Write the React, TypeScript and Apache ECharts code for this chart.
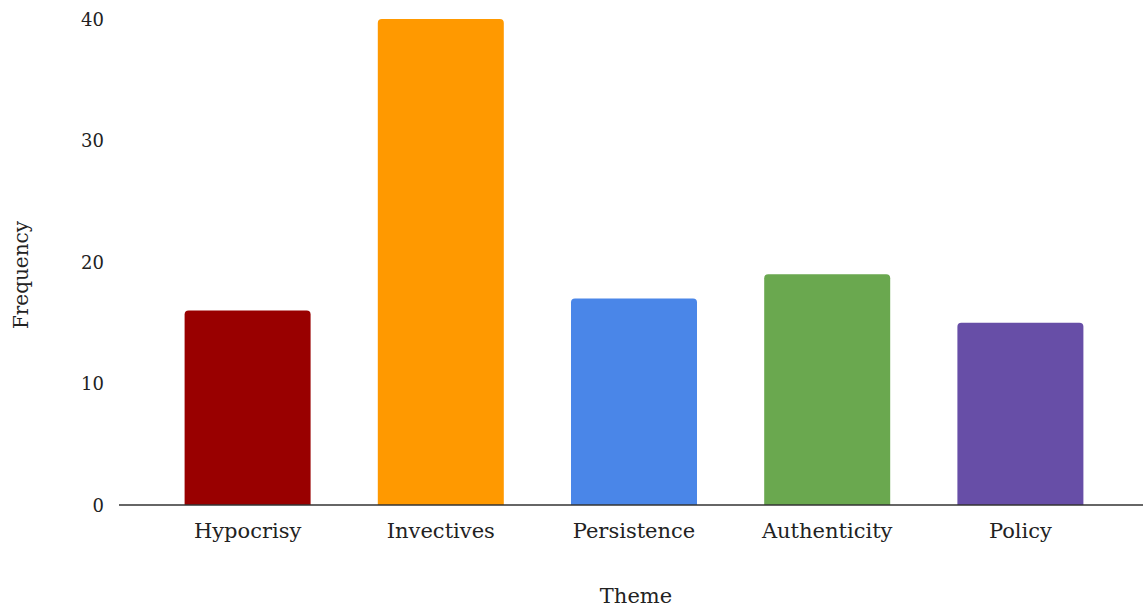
import React, { useEffect, useRef } from "react";
import * as echarts from "echarts";

const categories = ["Hypocrisy", "Invectives", "Persistence", "Authenticity", "Policy"];
const frequencies = [16, 40, 17, 19, 15];
const barColors = ["#990000", "#ff9900", "#4a86e8", "#6aa84f", "#674ea7"];
const yTicks = [0, 10, 20, 30, 40];
const xTitle = "Theme";
const yTitle = "Frequency";

const FONT = "'DejaVu Serif', serif";

export default function App() {
  const ref = useRef<HTMLDivElement>(null);
  useEffect(() => {
    if (!ref.current) return;
    const chart = echarts.init(ref.current, null, { renderer: "svg" });
    chart.setOption({
      animation: false,
      backgroundColor: "#ffffff",
      grid: { left: 151, right: 26, top: 19, bottom: 102, containLabel: false },
      xAxis: {
        type: "category",
        data: categories,
        axisLine: { show: false },
        axisTick: { show: false },
        axisLabel: { fontFamily: FONT, fontSize: 21, color: "#222", margin: 15 },
      },
      yAxis: {
        type: "value",
        min: yTicks[0],
        max: yTicks[yTicks.length - 1],
        interval: 10,
        axisLine: { show: false },
        axisTick: { show: false },
        splitLine: { show: false },
        axisLabel: { fontFamily: FONT, fontSize: 18, color: "#222", margin: 47 },
      },
      graphic: [
        {
          type: "line",
          shape: { x1: 119, y1: 505, x2: 1143, y2: 505 },
          style: { stroke: "#333", lineWidth: 1.5 },
          z: 100,
        },
        {
          type: "text",
          x: 636,
          y: 596,
          style: {
            text: xTitle,
            fontFamily: FONT,
            fontSize: 21,
            fill: "#222",
            textAlign: "center",
            textVerticalAlign: "middle",
          },
        },
        {
          type: "text",
          x: 21,
          y: 275,
          rotation: Math.PI / 2,
          style: {
            text: yTitle,
            fontFamily: FONT,
            fontSize: 20,
            fill: "#222",
            textAlign: "center",
            textVerticalAlign: "middle",
          },
        },
      ],
      series: [
        {
          type: "bar",
          barWidth: 126,
          data: frequencies.map((v, i) => ({
            value: v,
            itemStyle: { color: barColors[i], borderRadius: [4, 4, 0, 0] },
          })),
        },
      ],
    });
    return () => chart.dispose();
  }, []);
  return (
    <div
      ref={ref}
      style={{ position: "fixed", left: 0, top: 0, width: 1143, height: 607 }}
    />
  );
}
